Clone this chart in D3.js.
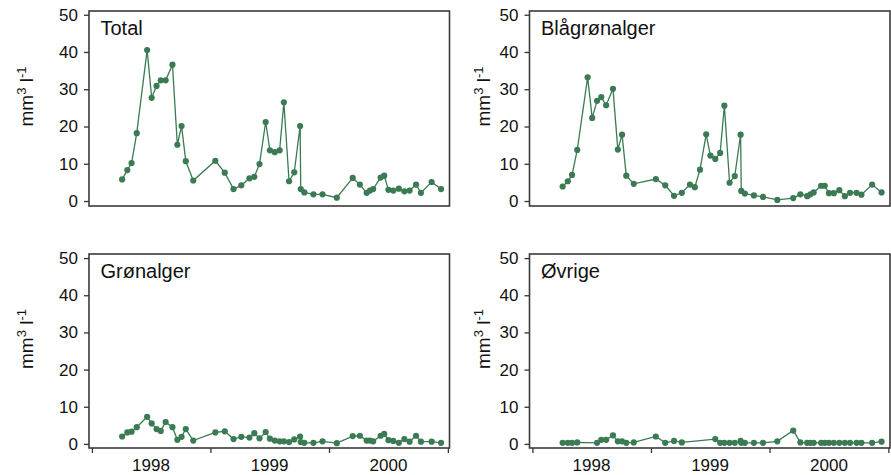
<!DOCTYPE html>
<html>
<head>
<meta charset="utf-8">
<script src="https://cdn.jsdelivr.net/npm/d3@7"></script>
<style>
body{margin:0;background:#fff;}
svg{font-family:"Liberation Sans",Arial,Helvetica,sans-serif;}
</style>
</head>
<body>
<script>
// sampling dates, shared by all four panels
var dates=["1998-04-04","1998-04-20","1998-05-03","1998-05-19","1998-06-20","1998-07-04","1998-07-19","1998-08-01","1998-08-16","1998-09-06",
  "1998-09-21","1998-10-04","1998-10-17","1998-11-09","1999-01-16","1999-02-14","1999-03-13","1999-04-06","1999-05-01","1999-05-16",
  "1999-06-01","1999-06-20","1999-07-03","1999-07-18","1999-08-02","1999-08-15","1999-08-31","1999-09-16","1999-10-04","1999-10-06",
  "1999-10-17","1999-11-14","1999-12-12","2000-01-25","2000-03-14","2000-04-05","2000-04-26","2000-05-06","2000-05-16","2000-06-08",
  "2000-06-19","2000-07-02","2000-07-17","2000-08-03","2000-08-20","2000-09-05","2000-09-25","2000-10-10","2000-11-12","2000-12-11"]

var total=[5.8,8.3,10.2,18.2,40.5,27.7,30.9,32.4,32.4,36.6,
  15.1,20.1,10.7,5.5,10.8,7.6,3.2,4.2,6.1,6.5,
  9.9,21.2,13.6,13.1,13.6,26.5,5.3,7.7,20.1,3.2,
  2.3,1.8,1.8,0.9,6.2,4.4,2.2,2.8,3.2,6.3,
  6.8,3.0,2.8,3.3,2.6,2.8,4.4,2.2,5.1,3.2]

var blagronn=[3.9,5.3,7.0,13.7,33.2,22.3,26.9,27.9,25.7,30.1,
  13.8,17.8,6.8,4.6,5.9,4.2,1.4,2.2,4.4,3.7,
  8.4,17.9,12.2,11.3,12.9,25.6,4.9,6.7,17.8,2.7,
  2.0,1.5,1.1,0.3,0.8,1.8,1.3,1.8,2.3,4.1,
  4.1,2.1,2.1,2.9,1.3,2.2,2.2,1.7,4.4,2.3]

var gronn=[2.0,3.1,3.3,4.5,7.3,5.5,4.0,3.5,5.9,4.5,
  1.1,1.9,4.0,0.9,3.1,3.4,1.3,1.9,1.7,2.9,
  1.5,3.2,1.4,0.9,0.7,0.7,0.5,1.2,2.0,0.5,
  0.3,0.3,0.7,0.2,2.1,2.2,0.9,0.9,0.7,2.2,
  2.7,1.0,0.8,0.3,1.3,0.6,2.2,0.6,0.6,0.3]

var ovrige=[0.3,0.3,0.3,0.4,null,null,0.3,1.1,1.1,2.3,
  0.7,0.7,0.3,0.4,2.0,0.3,0.8,0.4,null,null,
  null,null,null,1.3,0.3,0.3,0.3,0.3,0.8,0.3,
  0.3,0.3,0.3,0.7,3.6,0.4,0.3,0.3,0.3,0.3,
  0.3,0.3,0.3,0.3,0.3,0.3,0.3,0.3,0.3,0.6]

var panelNames=["Total","Blågrønalger","Grønalger","Øvrige"]
var yTicks=[0,10,20,30,40,50]
var yearLabels=["1998","1999","2000"]
var yearTicks=["1998","1999","2000","2001"]

var parse=d3.timeParse("%Y-%m-%d")
var green="#3b7b53"

var svg=d3.select("body").append("svg")
  .attr('width',891)
  .attr('height',475)

var panels=[
  {name:panelNames[0],values:total,x0:89,top:11,bottom:206,axis:false},
  {name:panelNames[1],values:blagronn,x0:529.5,top:11,bottom:206,axis:false},
  {name:panelNames[2],values:gronn,x0:89,top:254,bottom:448,axis:true},
  {name:panelNames[3],values:ovrige,x0:529.5,top:254,bottom:448,axis:true}
]
var w=360.5

var drawPanel=function(p,pi){
  var g=svg.append("g")
  var xScale=d3.scaleTime()
      .domain([new Date(1997,11,23),new Date(2001,0,6)])
      .range([p.x0,p.x0+w])
  var lo=p.axis?-1.1:-1.34
  var hi=p.axis?51.1:51
  var yScale=d3.scaleLinear()
      .domain([lo,hi])
      .range([p.bottom,p.top])

  var pts=[]
  dates.forEach(function(d,i){
    if(p.values[i]!=null) pts.push({date:parse(d),v:p.values[i]})
  })

  // y axis
  var ya=g.append("g")
    .attr('transform','translate('+p.x0+',0)')
    .call(d3.axisLeft(yScale).tickValues(yTicks).tickSize(5).tickPadding(6))
  ya.select(".domain").remove()
  ya.selectAll("line").attr('stroke','#333').attr('stroke-width',1.3)
  ya.selectAll("text").attr('font-size',17).attr('fill','#111')
    .attr('font-family','"Liberation Sans",Arial,sans-serif')

  if(p.axis){
    var xa=g.append("g")
      .attr('transform','translate(0,'+p.bottom+')')
      .call(d3.axisBottom(xScale).tickValues(yearTicks.map(function(y){return parse(y+"-01-01")})).tickSize(5).tickFormat(""))
    xa.select(".domain").remove()
    xa.selectAll("line").attr('stroke','#333').attr('stroke-width',1.3)
    g.selectAll(".yl").data(yearLabels).enter().append("text")
      .attr('x',function(d){return xScale(parse(d+"-07-02"))})
      .attr('y',470.5)
      .attr('text-anchor','middle')
      .attr('font-size',17)
      .attr('fill','#111')
      .text(function(d){return d})
  }

  g.append("rect")
    .attr('x',p.x0)
    .attr('y',p.top)
    .attr('width',w)
    .attr('height',p.bottom-p.top)
    .attr('fill','none')
    .attr('stroke','#3a3a3a')
    .attr('stroke-width',1.6)

  var line=d3.line()
    .x(function(d){return xScale(d.date)})
    .y(function(d){return yScale(d.v)})
  g.append("path")
    .datum(pts)
    .attr('d',line)
    .attr('fill','none')
    .attr('stroke',green)
    .attr('stroke-width',1.3)
  g.selectAll("circle").data(pts).enter().append("circle")
    .attr('cx',function(d){return xScale(d.date)})
    .attr('cy',function(d){return yScale(d.v)})
    .attr('r',3.1)
    .style('fill',green)

  g.append("text")
    .attr('x',p.x0+11.5)
    .attr('y',p.top+24)
    .attr('font-size',20)
    .attr('fill','#111')
    .text(p.name)

  // y axis title
  var lx=pi%2==0?26:483
  var ly=(p.top+p.bottom)/2-12
  var t=g.append("text")
    .attr('transform','translate('+lx+','+ly+') rotate(-90)')
    .attr('text-anchor','middle')
    .attr('dy','0.35em')
    .attr('font-size',19)
    .attr('fill','#111')
  t.append("tspan").text("mm")
  t.append("tspan").attr('font-size',13).attr('dy',-7).text("3")
  t.append("tspan").attr('dy',7).text(" l")
  t.append("tspan").attr('font-size',13).attr('dy',-7).text("-1")
}

panels.forEach(function(p,i){drawPanel(p,i)})
</script>
</body>
</html>
